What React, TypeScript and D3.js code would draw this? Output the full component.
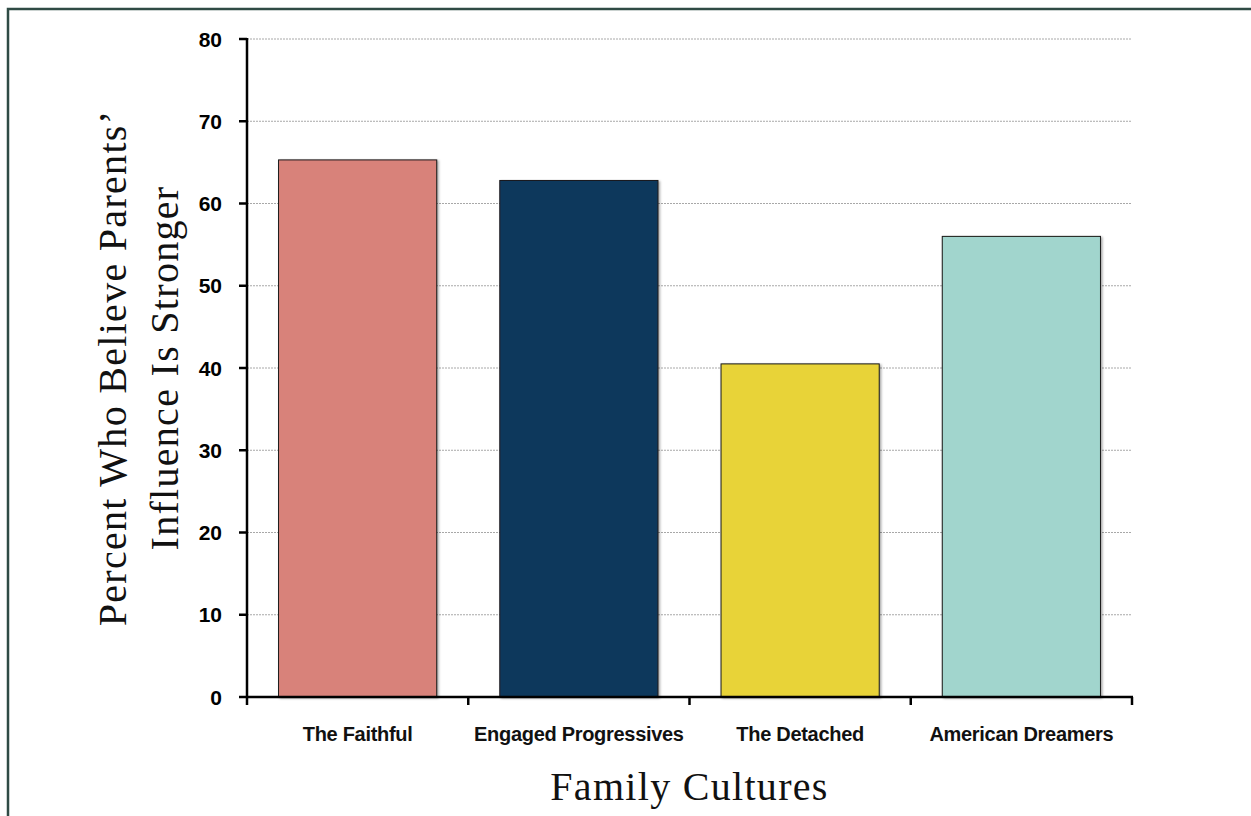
import React from "react";
import * as d3 from "d3";

// Family culture groups and the share who say parents' influence is stronger
const categories: string[] = ["The Faithful", "Engaged Progressives", "The Detached", "American Dreamers"];
const percentValues: number[] = [65.3, 62.8, 40.5, 56.0];
const barColors: string[] = ["#d8827a", "#11375b", "#e8d338", "#a1d5cd"];
const yTicks: number[] = [0, 10, 20, 30, 40, 50, 60, 70, 80];
const yTitleLines: string[] = ["Percent Who Believe Parents\u2019", "Influence Is Stronger"];
const xTitle = "Family Cultures";

const W = 1251;
const H = 816;
const plot = { left: 247, right: 1132, top: 39, bottom: 697 };

export default function App() {
  const x = d3
    .scaleBand<string>()
    .domain(categories)
    .range([plot.left, plot.right])
    .paddingInner(0.285)
    .paddingOuter(0.1425);
  const y = d3.scaleLinear().domain([0, 80]).range([plot.bottom, plot.top]);

  const boundaries = d3.range(categories.length + 1).map(
    (i) => plot.left + ((plot.right - plot.left) * i) / categories.length
  );

  const sans = "'Liberation Sans', Arial, sans-serif";
  const serif = "'Liberation Serif', 'Times New Roman', serif";
  const midY = (plot.top + plot.bottom) / 2;
  const midX = (plot.left + plot.right) / 2;

  return (
    <svg
      width={W}
      height={H}
      viewBox={`0 0 ${W} ${H}`}
      style={{ position: "absolute", left: 0, top: 0, background: "#ffffff" }}
    >
      <defs>
        <filter id="barShadow" x="-10%" y="-10%" width="130%" height="130%">
          <feDropShadow dx="1.5" dy="1" stdDeviation="1" floodColor="#000" floodOpacity="0.35" />
        </filter>
      </defs>

      {/* outer frame */}
      <rect x={8} y={9} width={1300} height={900} fill="none" stroke="#2f4b45" strokeWidth={2.5} />

      {/* dotted gridlines */}
      {yTicks
        .filter((t) => t > 0)
        .map((t) => (
          <line
            key={`g${t}`}
            x1={plot.left}
            x2={plot.right - 1}
            y1={y(t)}
            y2={y(t)}
            stroke="#a8a8a8"
            strokeWidth={1}
            strokeDasharray="2 1"
          />
        ))}

      {/* bars */}
      {categories.map((c, i) => (
        <rect
          key={c}
          x={x(c)}
          y={y(percentValues[i])}
          width={x.bandwidth()}
          height={y(0) - y(percentValues[i])}
          fill={barColors[i]}
          stroke="#1a1a1a"
          strokeWidth={1}
          filter="url(#barShadow)"
        />
      ))}

      {/* y axis */}
      <line x1={plot.left} x2={plot.left} y1={plot.top - 1} y2={plot.bottom} stroke="#000" strokeWidth={2.5} />
      {yTicks.map((t) => (
        <g key={`t${t}`}>
          <line x1={plot.left - 8} x2={plot.left} y1={y(t)} y2={y(t)} stroke="#000" strokeWidth={2.5} />
          <text
            x={222}
            y={y(t)}
            dy="0.36em"
            textAnchor="end"
            fontFamily={sans}
            fontWeight="bold"
            fontSize={21}
            fill="#000"
          >
            {t}
          </text>
        </g>
      ))}

      {/* x axis */}
      <line x1={plot.left - 1} x2={plot.right + 1} y1={plot.bottom} y2={plot.bottom} stroke="#000" strokeWidth={2.5} />
      {boundaries.map((bx, i) => (
        <line key={`xb${i}`} x1={bx} x2={bx} y1={plot.bottom} y2={plot.bottom + 8} stroke="#000" strokeWidth={2.5} />
      ))}
      {categories.map((c) => (
        <text
          key={`l${c}`}
          x={(x(c) as number) + x.bandwidth() / 2}
          y={741}
          textAnchor="middle"
          fontFamily={sans}
          fontWeight="bold"
          fontSize={20}
          letterSpacing={-0.3}
          fill="#111"
        >
          {c}
        </text>
      ))}

      {/* axis titles */}
      <text
        x={midX}
        y={800}
        textAnchor="middle"
        fontFamily={serif}
        fontSize={40}
        letterSpacing={1.3}
        fill="#111"
      >
        {xTitle}
      </text>
      {yTitleLines.map((line, i) => (
        <text
          key={`yt${i}`}
          transform={`translate(${126 + i * 52},${midY}) rotate(-90)`}
          textAnchor="middle"
          fontFamily={serif}
          fontSize={40}
          letterSpacing={1.3}
          fill="#111"
        >
          {line}
        </text>
      ))}
    </svg>
  );
}
